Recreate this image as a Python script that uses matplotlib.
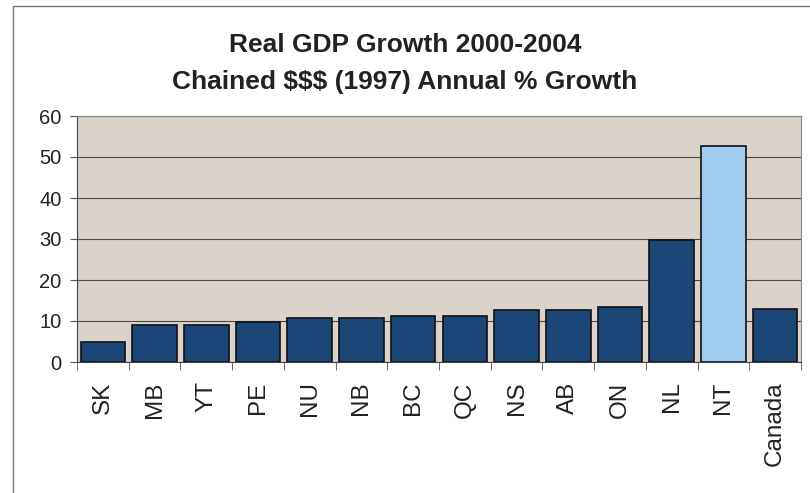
import numpy as np
import matplotlib.pyplot as plt
from matplotlib.patches import Rectangle

regions = ["SK", "MB", "YT", "PE", "NU", "NB", "BC", "QC", "NS", "AB", "ON", "NL", "NT", "Canada"]
growth = [5.0, 9.0, 9.0, 9.8, 10.8, 10.8, 11.3, 11.3, 12.8, 12.8, 13.3, 29.8, 52.8, 12.9]
highlight = "NT"
yticks = [0, 10, 20, 30, 40, 50, 60]

plt.rcParams['font.family'] = ['Liberation Sans', 'DejaVu Sans']

fig = plt.figure(figsize=(8.1, 4.93), dpi=100)
ax = fig.add_axes([77 / 810, 1 - 362 / 493, 724 / 810, 246 / 493])

x = np.arange(len(regions))
colors = ["#9fcdf0" if r == highlight else "#1a4678" for r in regions]
ax.bar(x, growth, width=0.86, color=colors, edgecolor="#111111", linewidth=1.2, zorder=3)

ax.set_facecolor("#d9d3ca")
ax.set_xlim(-0.5, len(regions) - 0.5)
ax.set_ylim(0, 60)
ax.set_yticks(yticks)
ax.yaxis.grid(True, color="#4a4a4a", linewidth=0.8, zorder=1)
ax.set_axisbelow(True)

ax.set_xticks(x)
ax.set_xticklabels(regions, rotation=90, fontsize=17.5, color="#222222")
ax.tick_params(axis="x", length=0, pad=14)
ax.set_xticks(np.arange(len(regions) + 1) - 0.5, minor=True)
ax.tick_params(axis="x", which="minor", length=6, color="#555555")
ax.tick_params(axis="y", labelsize=14.5, length=5, pad=6, color="#555555", labelcolor="#222222")

for side in ["left", "bottom"]:
    ax.spines[side].set_color("#444444")
for side in ["right", "top"]:
    ax.spines[side].set_color("#888888")

fig.text(0.5, 1 - 45 / 493, "Real GDP Growth 2000-2004", ha="center", va="center",
         fontsize=19, fontweight="bold", color="#222222")
fig.text(0.5, 1 - 82 / 493, "Chained $$$ (1997) Annual % Growth", ha="center", va="center",
         fontsize=19, fontweight="bold", color="#222222")

# outer chart frame
fig.add_artist(Rectangle((13 / 810, -0.2), 1.0, 1.2 - 6 / 493, transform=fig.transFigure,
                         fill=False, edgecolor="#777777", linewidth=1.0))

fig.savefig("out.png", dpi=100)
